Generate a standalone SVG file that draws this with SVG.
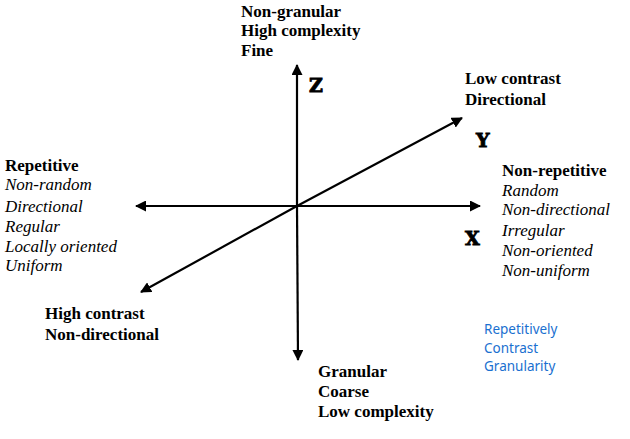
<svg xmlns="http://www.w3.org/2000/svg" width="630" height="439" viewBox="0 0 630 439">
<style>
.b{font-family:'Liberation Serif',serif;font-weight:bold;font-size:17px;fill:#000}
.i{font-family:'Liberation Serif',serif;font-style:italic;font-size:17px;fill:#000}
.ax{font-family:'DejaVu Serif',serif;font-weight:bold;font-size:19px;fill:#000;stroke:#000;stroke-width:0.9}
.blue{font-family:'Noto Sans','Open Sans',sans-serif;font-size:13.5px;fill:#1a70d0}
.ln{stroke:#000;stroke-width:2.2;fill:none}
</style>
<defs>
<marker id="ah" markerWidth="11" markerHeight="11" refX="10" refY="5.5" orient="auto" markerUnits="userSpaceOnUse" viewBox="0 0 11 11">
<path d="M0,0 L11,5.5 L0,11 z" fill="#000"/>
</marker>
</defs>
<rect width="630" height="439" fill="#fff"/>
<g id="connectors">
<line class="ln" x1="297" y1="206" x2="297" y2="65" marker-end="url(#ah)"/>
<line class="ln" x1="297" y1="206" x2="298" y2="360" marker-end="url(#ah)"/>
<line class="ln" x1="297" y1="206" x2="136" y2="206" marker-end="url(#ah)"/>
<line class="ln" x1="297" y1="206" x2="480" y2="206" marker-end="url(#ah)"/>
<line class="ln" x1="297" y1="206" x2="462" y2="118" marker-end="url(#ah)"/>
<line class="ln" x1="297" y1="206" x2="141" y2="292" marker-end="url(#ah)"/>
</g>
<g id="axis-z"><text class="ax" x="309" y="92">Z</text></g>
<g id="axis-y"><text class="ax" x="476" y="147">Y</text></g>
<g id="axis-x"><text class="ax" x="465" y="245">X</text></g>
<g id="top">
<text class="b" x="241" y="17">Non-granular</text>
<text class="b" x="241" y="36">High complexity</text>
<text class="b" x="241" y="56">Fine</text>
</g>
<g id="upper-right">
<text class="b" x="465" y="84">Low contrast</text>
<text class="b" x="465" y="105">Directional</text>
</g>
<g id="left">
<text class="b" x="5" y="171">Repetitive</text>
<text class="i" x="5" y="190">Non-random</text>
<text class="i" x="5" y="212">Directional</text>
<text class="i" x="5" y="232">Regular</text>
<text class="i" x="5" y="252">Locally oriented</text>
<text class="i" x="5" y="271">Uniform</text>
</g>
<g id="right">
<text class="b" x="502" y="176">Non-repetitive</text>
<text class="i" x="502" y="196">Random</text>
<text class="i" x="502" y="215">Non-directional</text>
<text class="i" x="502" y="236">Irregular</text>
<text class="i" x="502" y="256">Non-oriented</text>
<text class="i" x="502" y="276">Non-uniform</text>
</g>
<g id="lower-left">
<text class="b" x="45" y="319">High contrast</text>
<text class="b" x="45" y="340">Non-directional</text>
</g>
<g id="bottom">
<text class="b" x="318" y="377">Granular</text>
<text class="b" x="318" y="397">Coarse</text>
<text class="b" x="318" y="417">Low complexity</text>
</g>
<g id="legend">
<text class="blue" x="484" y="334">Repetitively</text>
<text class="blue" x="484" y="352.5">Contrast</text>
<text class="blue" x="484" y="371">Granularity</text>
</g>
</svg>
